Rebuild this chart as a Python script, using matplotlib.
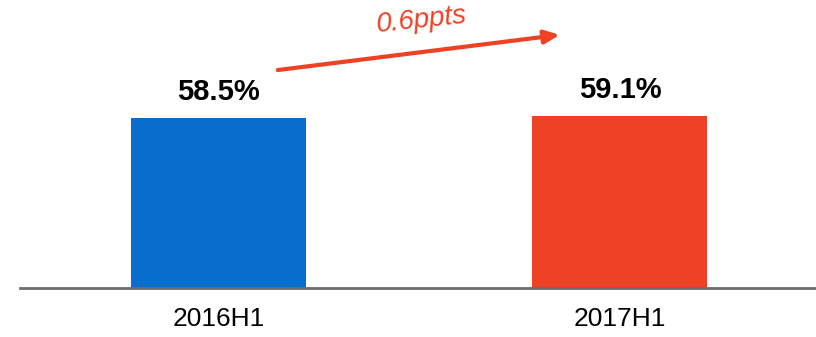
import matplotlib.pyplot as plt

plt.rcParams['font.family'] = ['Liberation Sans', 'DejaVu Sans']

# half-year ratios
periods = ['2016H1', '2017H1']
values = [58.5, 59.1]
colors = ['#086ECD', '#EF4123']
change_label = '0.6ppts'

fig = plt.figure(figsize=(8.16, 3.37), dpi=100)
ax = fig.add_axes([20 / 816, 49 / 337, 796 / 816, 288 / 337])

x = range(len(periods))
ax.bar(x, values, width=0.436, color=colors, zorder=2)

# value labels above bars
for xi, v in zip(x, values):
    ax.text(xi, v + 9.0, '%.1f%%' % v, ha='center', va='center',
            fontsize=21, fontweight='bold', color='black')

# change arrow between the two bars
ax.annotate('', xy=(0.85, 87.1), xytext=(0.147, 75.0),
            arrowprops=dict(arrowstyle='-|>,head_length=0.9,head_width=0.4',
                            color='#EF4123', lw=3, shrinkA=0, shrinkB=0))
ax.text(0.506, 92.2, change_label, ha='center', va='center', rotation=6,
        fontsize=20, style='italic', color='#EF4123')

ax.set_xlim(-0.496, 1.489)
ax.set_ylim(0, 99.1)
ax.set_xticks(list(x))
ax.set_xticklabels(periods, fontsize=19)
ax.tick_params(axis='x', length=0, pad=14)
ax.set_yticks([])
for side in ['top', 'right', 'left']:
    ax.spines[side].set_visible(False)
ax.spines['bottom'].set_color('#6D6D6D')
ax.spines['bottom'].set_linewidth(2)
ax.spines['bottom'].set_zorder(3)

fig.savefig('out.png', dpi=100)
